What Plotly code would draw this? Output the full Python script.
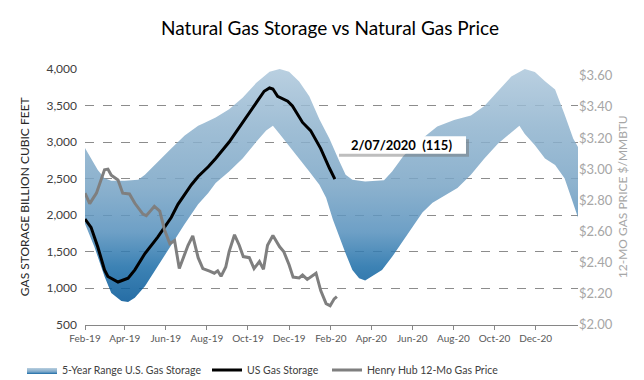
import plotly.graph_objects as go

# ---------------- data ----------------
band_upper_dates = ["2019-02-01", "2019-02-10", "2019-02-20", "2019-03-02", "2019-03-12", "2019-04-01",
                    "2019-04-21", "2019-05-01", "2019-05-20", "2019-06-09", "2019-06-29", "2019-07-19",
                    "2019-07-28", "2019-08-14", "2019-09-03", "2019-09-23", "2019-10-13", "2019-11-02",
                    "2019-11-17", "2019-12-01", "2019-12-16", "2019-12-31", "2020-01-15", "2020-01-30",
                    "2020-02-14", "2020-02-23", "2020-03-04", "2020-03-23", "2020-04-20", "2020-05-02",
                    "2020-05-19", "2020-06-08", "2020-07-08", "2020-08-02", "2020-08-27", "2020-09-16",
                    "2020-10-06", "2020-10-26", "2020-11-15", "2020-11-30", "2020-12-15", "2020-12-30",
                    "2021-01-13", "2021-01-26", "2021-02-02"]
band_upper = [2918, 2774, 2617, 2505, 2469, 2470,
              2482, 2550, 2730, 2910, 3090, 3223,
              3260, 3335, 3448, 3605, 3807, 3964,
              4000, 3964, 3829, 3627, 3313, 3044,
              2729, 2550, 2483, 2460, 2477, 2595,
              2811, 2989, 3212, 3301, 3362, 3493,
              3695, 3897, 4000, 3960, 3832, 3720,
              3380, 3044, 2930]

band_lower_dates = ["2019-02-01", "2019-02-15", "2019-03-02", "2019-03-12", "2019-03-27", "2019-04-06",
                    "2019-04-16", "2019-05-01", "2019-05-20", "2019-06-09", "2019-06-29", "2019-07-19",
                    "2019-08-03", "2019-08-14", "2019-09-03", "2019-09-23", "2019-10-13", "2019-10-28",
                    "2019-11-07", "2019-11-17", "2019-12-01", "2019-12-16", "2019-12-31", "2020-01-15",
                    "2020-01-25", "2020-02-04", "2020-02-14", "2020-02-23", "2020-03-04", "2020-03-14",
                    "2020-03-23", "2020-04-02", "2020-04-17", "2020-05-02", "2020-05-17", "2020-06-01",
                    "2020-06-16", "2020-07-01", "2020-07-21", "2020-08-07", "2020-08-27", "2020-09-16",
                    "2020-10-06", "2020-10-26", "2020-11-07", "2020-11-15", "2020-11-30", "2020-12-15",
                    "2020-12-30", "2021-01-13", "2021-01-23", "2021-02-02"]
band_lower = [1880, 1562, 1158, 933, 821, 808,
              866, 1023, 1293, 1584, 1876, 2146,
              2303, 2438, 2595, 2774, 2999, 3156,
              3223, 3111, 2954, 2774, 2595, 2415,
              2236, 1940, 1697, 1472, 1248, 1135,
              1104, 1158, 1248, 1427, 1629, 1831,
              2033, 2168, 2280, 2370, 2550, 2774,
              2976, 3133, 3223, 3111, 2954, 2774,
              2684, 2505, 2236, 1966]

storage_dates = ["2019-02-01", "2019-02-10", "2019-02-20", "2019-03-02", "2019-03-07", "2019-03-17",
                 "2019-03-22", "2019-04-06", "2019-04-16", "2019-05-01", "2019-05-20", "2019-06-09",
                 "2019-06-19", "2019-07-09", "2019-07-19", "2019-08-03", "2019-08-14", "2019-09-03",
                 "2019-09-23", "2019-10-13", "2019-10-25", "2019-11-02", "2019-11-07", "2019-11-14",
                 "2019-11-29", "2019-12-06", "2019-12-21", "2020-01-02", "2020-01-17", "2020-01-30",
                 "2020-02-07"]
storage = [1944, 1831, 1562, 1248, 1158, 1104,
           1082, 1135, 1248, 1472, 1697, 1966,
           2146, 2415, 2527, 2660, 2774, 2999,
           3268, 3538, 3695, 3740, 3726, 3627,
           3560, 3493, 3268, 3156, 2909, 2640,
           2492]

price_dates = ["2019-02-01", "2019-02-08", "2019-02-18", "2019-02-25", "2019-03-02", "2019-03-07",
               "2019-03-12", "2019-03-22", "2019-03-29", "2019-04-08", "2019-04-16", "2019-04-28",
               "2019-05-03", "2019-05-15", "2019-05-23", "2019-05-30", "2019-06-07", "2019-06-14",
               "2019-06-21", "2019-07-04", "2019-07-11", "2019-07-19", "2019-07-26", "2019-08-05",
               "2019-08-12", "2019-08-17", "2019-08-22", "2019-08-29", "2019-09-03", "2019-09-11",
               "2019-09-18", "2019-09-24", "2019-10-03", "2019-10-10", "2019-10-18", "2019-10-24",
               "2019-10-30", "2019-11-07", "2019-11-17", "2019-11-23", "2019-12-01", "2019-12-07",
               "2019-12-16", "2019-12-21", "2019-12-28", "2020-01-10", "2020-01-17", "2020-01-25",
               "2020-01-31", "2020-02-06", "2020-02-10"]
price = [2.845, 2.778, 2.845, 2.94, 2.996, 3.00,
         2.96, 2.93, 2.845, 2.84, 2.78, 2.71,
         2.70, 2.76, 2.73, 2.61, 2.52, 2.54,
         2.36, 2.51, 2.57, 2.43, 2.36, 2.343,
         2.33, 2.345, 2.31, 2.37, 2.469, 2.577,
         2.51, 2.437, 2.43, 2.36, 2.405, 2.355,
         2.51, 2.573, 2.50, 2.47, 2.385, 2.305,
         2.30, 2.318, 2.29, 2.33, 2.218, 2.134,
         2.12, 2.165, 2.18]

tick_dates = ["2019-02-01", "2019-04-01", "2019-06-01", "2019-08-01", "2019-10-01", "2019-12-01",
              "2020-02-01", "2020-04-01", "2020-06-01", "2020-08-01", "2020-10-01", "2020-12-01"]
tick_labels = ["Feb-19", "Apr-19", "Jun-19", "Aug-19", "Oct-19", "Dec-19",
               "Feb-20", "Apr-20", "Jun-20", "Aug-20", "Oct-20", "Dec-20"]

annotation_text = "2/07/2020  (115)"

# ---------------- figure ----------------
FONT = "Lato"
fig = go.Figure()

band_x = band_upper_dates + band_lower_dates[::-1]
band_y = band_upper + band_lower[::-1]
fig.add_trace(go.Scatter(
    x=band_x, y=band_y, mode="lines", fill="toself",
    line=dict(width=0, color="rgba(0,0,0,0)"),
    fillgradient=dict(type="vertical", colorscale=[
        [0.0, "rgba(0,84,149,0.85)"],
        [0.15, "rgba(26,108,167,0.85)"],
        [0.3, "rgba(84,143,188,0.85)"],
        [0.5, "rgba(120,164,197,0.85)"],
        [0.75, "rgba(143,179,206,0.85)"],
        [1.0, "rgba(173,199,219,0.85)"],
    ]),
    name="5-Year Range U.S. Gas Storage", hoverinfo="skip", legend="legend",
))
fig.add_trace(go.Scatter(
    x=storage_dates, y=storage, mode="lines",
    line=dict(color="black", width=3),
    name="US Gas Storage", legend="legend2",
))
fig.add_trace(go.Scatter(
    x=price_dates, y=price, mode="lines", yaxis="y2",
    line=dict(color="#7f7f7f", width=3),
    name="Henry Hub 12-Mo Gas Price", legend="legend3",
))

# annotation: shadow + white box (shapes) and bold label
fig.add_shape(type="rect", xref="paper", yref="paper",
              x0=0.5152, x1=0.7789, y0=0.6565, y1=0.7252,
              fillcolor="rgba(110,110,110,0.45)", line=dict(width=0), layer="above")
fig.add_shape(type="rect", xref="paper", yref="paper",
              x0=0.5091, x1=0.7728, y0=0.6679, y1=0.7366,
              fillcolor="white", line=dict(width=0), layer="above")
fig.add_annotation(x=0.641, y=0.702, xref="paper", yref="paper",
                   xanchor="center", yanchor="middle",
                   text="<b>" + annotation_text + "</b>",
                   showarrow=False, font=dict(family=FONT, size=13, color="black"))

leg_common = dict(orientation="h", xref="container", yref="container", xanchor="left",
                  y=1 - 362 / 380, yanchor="middle",
                  font=dict(family=FONT, size=10.5, color="#404040"),
                  bgcolor="rgba(0,0,0,0)", itemwidth=30)

fig.update_layout(
    width=644, height=380,
    margin=dict(l=77, r=74, t=61, b=57),
    paper_bgcolor="white", plot_bgcolor="white",
    font=dict(family=FONT, color="#404040"),
    title=dict(text="Natural Gas Storage vs Natural Gas Price", x=0.5, xanchor="center",
               y=1 - 20 / 380, yanchor="middle", yref="container",
               font=dict(family=FONT, size=19, color="black")),
    showlegend=True,
    legend=dict(x=14 / 644, **leg_common),
    legend2=dict(x=199 / 644, **leg_common),
    legend3=dict(x=319 / 644, **leg_common),
    xaxis=dict(type="date", range=["2019-02-01", "2021-02-02"],
               tickvals=tick_dates, ticktext=tick_labels,
               tickfont=dict(family=FONT, size=10, color="#595959"),
               showgrid=False, zeroline=False,
               showline=True, linecolor="#868686", linewidth=1,
               ticks="outside", ticklen=4, tickcolor="#868686"),
    yaxis=dict(range=[500, 4000], dtick=500, tick0=500, tickformat=",d",
               tickfont=dict(family=FONT, size=12, color="#404040"),
               ticklabelstandoff=7,
               showgrid=True, gridcolor="#8c8c8c", griddash="dash", gridwidth=1,
               zeroline=False, showline=False,
               title=dict(text="GAS STORAGE BILLION CUBIC FEET", standoff=14,
                          font=dict(family=FONT, size=12, color="#262626"))),
    yaxis2=dict(overlaying="y", side="right", range=[2.0, 3.644], dtick=0.2, tick0=2.0,
                tickformat="$.2f", showgrid=False, zeroline=False, showline=False,
                tickfont=dict(family=FONT, size=13, color="#a6a6a6"),
                title=dict(text="12-MO GAS PRICE $/MMBTU", standoff=6,
                           font=dict(family=FONT, size=12, color="#a6a6a6"))),
)

fig.write_html("out.html")
